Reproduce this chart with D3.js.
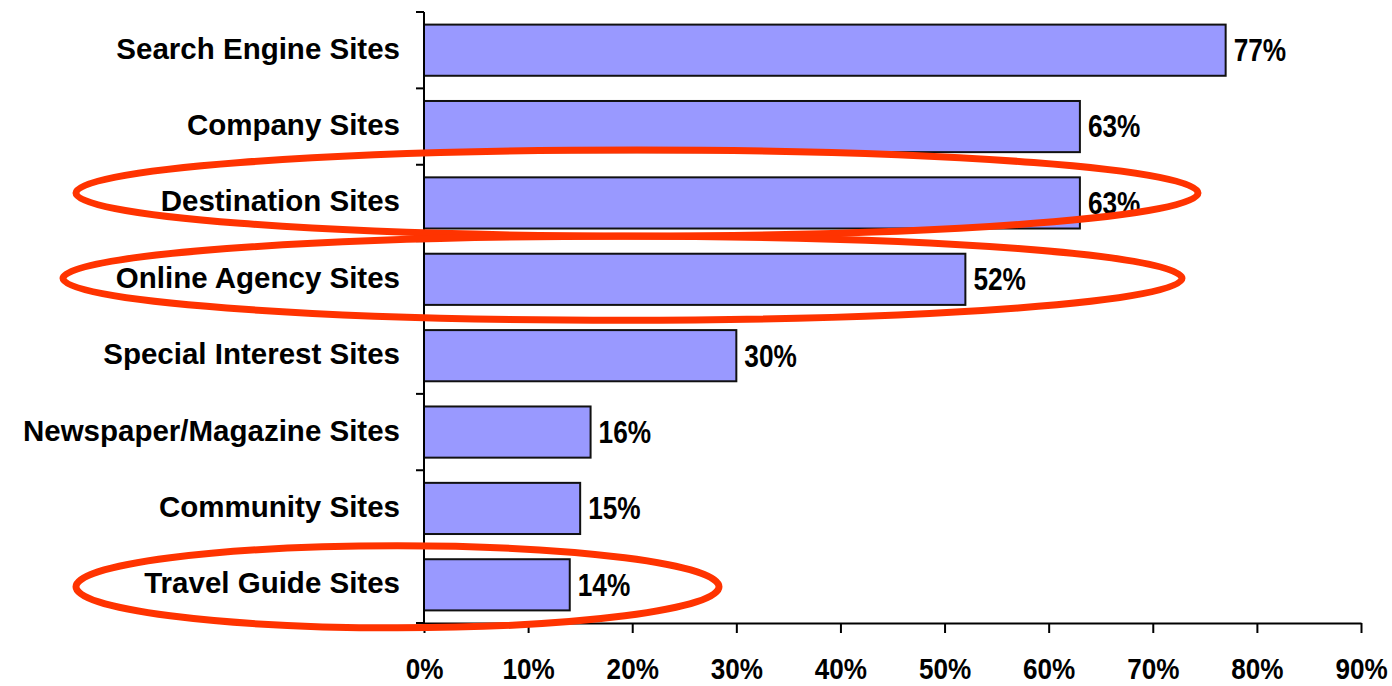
<!DOCTYPE html>
<meta charset="utf-8">
<script src="https://d3js.org/d3.v7.min.js"></script>
<style>
  body { margin: 0; background: #fff; }
  text { font-family: "Liberation Sans", Arial, sans-serif; font-weight: bold; fill: #000; }
</style>
<div id="chart"></div>
<script>

// data
var categories = ["Search Engine Sites", "Company Sites", "Destination Sites", "Online Agency Sites",
                  "Special Interest Sites", "Newspaper/Magazine Sites", "Community Sites", "Travel Guide Sites"];
var values = [77, 63, 63, 52, 30, 16, 15, 14];
var xTicks = [0, 10, 20, 30, 40, 50, 60, 70, 80, 90];
var highlighted = ["Destination Sites", "Online Agency Sites", "Travel Guide Sites"];

var width = 1392, height = 686;

var svg = d3.select("#chart")
  .append("svg")
    .attr("width", width)
    .attr("height", height);

var x = d3.scaleLinear()
  .domain([0, 90])
  .range([424, 1361]);

var y = d3.scaleBand()
  .domain(categories)
  .range([12, 623])
  .paddingInner(0.33)
  .paddingOuter(0.165);

var rows = categories.map(function(c, i) { return {cat: c, val: values[i]}; });

// bars
svg.selectAll("rect.bar")
  .data(rows)
  .enter()
  .append("rect")
    .attr("class", "bar")
    .attr("x", x(0))
    .attr("y", function(d) { return y(d.cat); })
    .attr("width", function(d) { return x(d.val) - x(0); })
    .attr("height", y.bandwidth())
    .attr("fill", "#9999ff")
    .attr("stroke", "#111")
    .attr("stroke-width", 2);

// value labels (narrow digits)
svg.selectAll("text.val")
  .data(rows)
  .enter()
  .append("text")
    .attr("class", "val")
    .attr("transform", function(d) {
      return "translate(" + (x(d.val) + 8) + "," + (y(d.cat) + y.bandwidth() / 2) + ") scale(0.82,1)";
    })
    .attr("dy", "0.34em")
    .style("font-size", "32px")
    .text(function(d) { return d.val + "%"; });

// x axis
var xAxis = svg.append("g")
  .attr("transform", "translate(0,623)")
  .call(d3.axisBottom(x)
    .tickValues(xTicks)
    .tickSize(10)
    .tickSizeOuter(0)
    .tickFormat(function(d) { return d + "%"; }));

xAxis.select(".domain").attr("stroke", "#000").attr("stroke-width", 2);
xAxis.selectAll(".tick line").attr("stroke", "#000").attr("stroke-width", 2);
xAxis.selectAll(".tick text")
  .attr("y", 56)
  .attr("dy", null)
  .attr("transform", "scale(0.87,1)")
  .style("font-size", "30px")
  .style("font-family", "'Liberation Sans', Arial, sans-serif")
  .style("font-weight", "bold")
  .attr("fill", "#000");

// y axis: line, ticks on category boundaries, labels
var step = y.step();
var boundaries = d3.range(categories.length + 1).map(function(i) { return y.range()[0] + i * step; });

svg.append("line")
  .attr("x1", x(0)).attr("x2", x(0))
  .attr("y1", y.range()[0]).attr("y2", y.range()[1])
  .attr("stroke", "#000")
  .attr("stroke-width", 2);

svg.selectAll("line.ytick")
  .data(boundaries)
  .enter()
  .append("line")
    .attr("class", "ytick")
    .attr("x1", x(0) - 8).attr("x2", x(0))
    .attr("y1", function(d) { return d; })
    .attr("y2", function(d) { return d; })
    .attr("stroke", "#000")
    .attr("stroke-width", 2);

svg.selectAll("text.cat")
  .data(categories)
  .enter()
  .append("text")
    .attr("class", "cat")
    .attr("x", 400)
    .attr("y", function(d) { return y(d) + y.bandwidth() / 2; })
    .attr("dy", "0.29em")
    .attr("text-anchor", "end")
    .style("font-size", "29.5px")
    .text(function(d) { return d; });

// red ellipses around highlighted rows
var ellipseShapes = {
  "Destination Sites":   {left: 76, right: 1198, dy: -10, ry: 43},
  "Online Agency Sites": {left: 63, right: 1182, dy: -1,  ry: 42},
  "Travel Guide Sites":  {left: 76, right: 719,  dy: 2,   ry: 41}
};

svg.selectAll("ellipse.hl")
  .data(highlighted)
  .enter()
  .append("ellipse")
    .attr("class", "hl")
    .attr("cx", function(d) { return (ellipseShapes[d].left + ellipseShapes[d].right) / 2; })
    .attr("cy", function(d) { return y(d) + y.bandwidth() / 2 + ellipseShapes[d].dy; })
    .attr("rx", function(d) { return (ellipseShapes[d].right - ellipseShapes[d].left) / 2; })
    .attr("ry", function(d) { return ellipseShapes[d].ry; })
    .attr("fill", "none")
    .attr("stroke", "#ff3300")
    .attr("stroke-width", 7);

</script>
